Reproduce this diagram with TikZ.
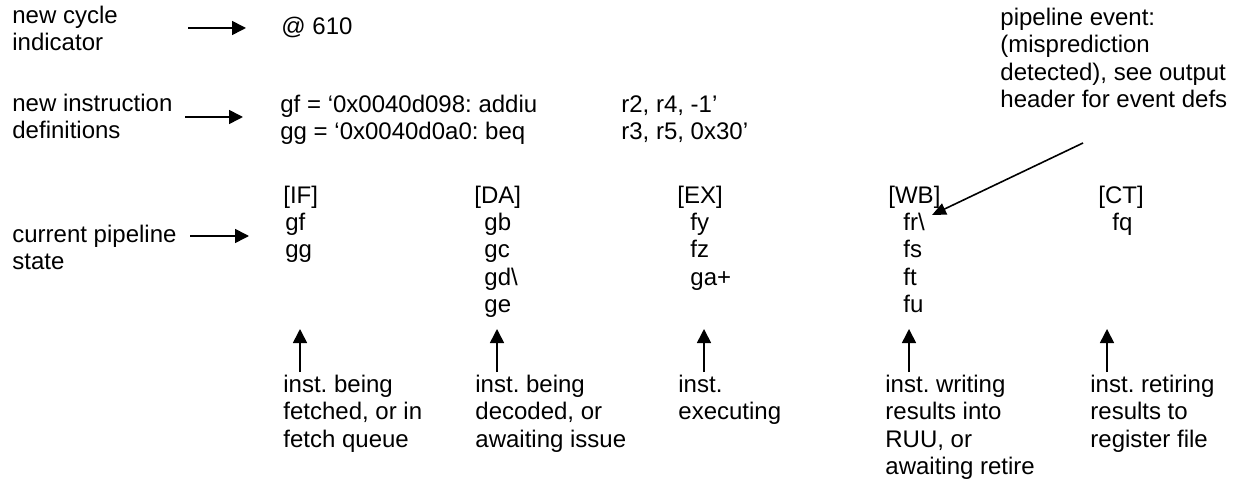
\documentclass[tikz,border=0pt]{standalone}
\usepackage{fontspec}
\setmainfont{Liberation Sans}
\usetikzlibrary{arrows.meta}
\frenchspacing
\begin{document}
\begin{tikzpicture}[x=0.5pt,y=-0.5pt,
  txt/.style={anchor=north west, inner sep=0pt, align=left, font=\fontsize{12}{13.75}\selectfont},
  arr/.style={line width=0.8pt, -{Triangle[length=7pt,width=7pt]}},
  evarr/.style={line width=0.8pt, -{Triangle[length=7pt,width=6pt]}}]
\useasboundingbox (0,0) rectangle (1235,480);
% left labels
\node[txt] (ncl) at (12,3.75) {\strut new cycle\\indicator};
\node[txt] (nid) at (12,91.75) {\strut new instruction\\definitions};
\node[txt] (cps) at (12,222.75) {\strut current pipeline\\state};
% right-hand contents
\node[txt] (cyc) at (281,14.75) {\strut @ 610};
\node[txt] (defs) at (280,92.75) {\strut gf = ‘0x0040d098: addiu\\gg = ‘0x0040d0a0: beq};
\node[txt] (regs) at (621,92.75) {\strut r2, r4, -1’\\r3, r5, 0x30’};
% stages
\node[txt] (hIF) at (283,183.75) {\strut [IF]};
\node[txt] (iIF) at (285,210.75) {\strut gf\\gg};
\node[txt] (hDA) at (474,183.75) {\strut [DA]};
\node[txt] (iDA) at (484,210.75) {\strut gb\\gc\\gd\textbackslash\\ge};
\node[txt] (hEX) at (677,183.75) {\strut [EX]};
\node[txt] (iEX) at (690,210.75) {\strut fy\\fz\\ga+};
\node[txt] (hWB) at (888,183.75) {\strut [WB]};
\node[txt] (iWB) at (903,210.75) {\strut fr\textbackslash\\fs\\ft\\fu};
\node[txt] (hCT) at (1098,183.75) {\strut [CT]};
\node[txt] (iCT) at (1112,210.75) {\strut fq};
% event note
\node[txt] (ev) at (1000,5.75) {\strut pipeline event:\\(misprediction\\detected), see output\\header for event defs};
% bottom notes
\node[txt] (bIF) at (283,372.75) {\strut inst. being\\fetched, or in\\fetch queue};
\node[txt] (bDA) at (475,372.75) {\strut inst. being\\decoded, or\\awaiting issue};
\node[txt] (bEX) at (678,372.75) {\strut inst.\\executing};
\node[txt] (bWB) at (885,372.75) {\strut inst. writing\\results into\\RUU, or\\awaiting retire};
\node[txt] (bCT) at (1090,372.75) {\strut inst. retiring\\results to\\register file};
% arrow end points
\coordinate (a1s) at (188,28);  \coordinate (a1e) at (246,28);
\coordinate (a2s) at (185,117); \coordinate (a2e) at (243,117);
\coordinate (a3s) at (190,236); \coordinate (a3e) at (249,236);
\coordinate (evs) at (1083,143); \coordinate (eve) at (932,215);
\coordinate (u1s) at (300,372); \coordinate (u1e) at (300,329);
\coordinate (u2s) at (497,372); \coordinate (u2e) at (497,329);
\coordinate (u3s) at (704,372); \coordinate (u3e) at (704,329);
\coordinate (u4s) at (909,372); \coordinate (u4e) at (909,329);
\coordinate (u5s) at (1107,372); \coordinate (u5e) at (1107,329);
\draw[arr] (a1s) -- (a1e);
\draw[arr] (a2s) -- (a2e);
\draw[arr] (a3s) -- (a3e);
\draw[evarr] (evs) -- (eve);
\draw[arr] (u1s) -- (u1e);
\draw[arr] (u2s) -- (u2e);
\draw[arr] (u3s) -- (u3e);
\draw[arr] (u4s) -- (u4e);
\draw[arr] (u5s) -- (u5e);
\end{tikzpicture}
\end{document}
